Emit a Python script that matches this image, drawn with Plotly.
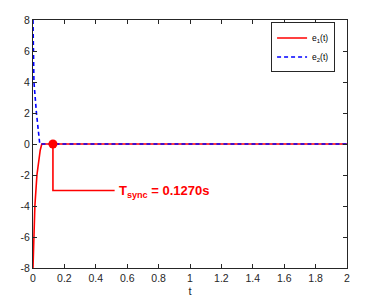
import plotly.graph_objects as go

# e1(t): red solid, rises from -8 to 0
t1 = [0, 0.005, 0.012, 0.025, 0.036, 0.046, 0.056, 0.127, 0.5, 1.0, 1.5, 2.0]
e1 = [-8, -6, -4, -2, -1, -0.4, 0, 0, 0, 0, 0, 0]
# e2(t): blue dashed, falls from 8 to 0
t2 = [0, 0.002, 0.006, 0.022, 0.043, 0.127, 0.5, 1.0, 1.5, 2.0]
e2 = [8, 6, 4, 2, 0, 0, 0, 0, 0, 0]

t_sync = 0.127
label_y = -3
label_x_end = 0.52

x_ticks = [0, 0.2, 0.4, 0.6, 0.8, 1, 1.2, 1.4, 1.6, 1.8, 2]
x_tick_text = ["0", "0.2", "0.4", "0.6", "0.8", "1", "1.2", "1.4", "1.6", "1.8", "2"]
y_ticks = [-8, -6, -4, -2, 0, 2, 4, 6, 8]
y_tick_text = ["-8", "-6", "-4", "-2", "0", "2", "4", "6", "8"]

font = "Liberation Sans, Arial, Helvetica, sans-serif"

fig = go.Figure()
fig.add_trace(go.Scatter(x=t1, y=e1, mode="lines", name="e<sub>1</sub>(t)",
                         line=dict(color="#ff0000", width=1.6)))
fig.add_trace(go.Scatter(x=t2, y=e2, mode="lines", name="e<sub>2</sub>(t)",
                         line=dict(color="#0000ff", width=1.6, dash="4px,3px")))
# annotation leader line
fig.add_trace(go.Scatter(x=[t_sync, t_sync, label_x_end], y=[0, label_y, label_y],
                         mode="lines", line=dict(color="#ff0000", width=1.6),
                         showlegend=False, hoverinfo="skip"))
fig.add_trace(go.Scatter(x=[t_sync], y=[0], mode="markers",
                         marker=dict(color="#ff0000", size=9),
                         showlegend=False))

fig.add_annotation(x=label_x_end, y=label_y, xref="x", yref="y",
                   text="<b>T<sub>sync</sub> = 0.1270s</b>", showarrow=False,
                   xanchor="left", yanchor="middle", xshift=2, yshift=-1,
                   font=dict(family=font, size=13, color="#ff0000"))

axis_common = dict(showgrid=False, zeroline=False, showline=True, linecolor="#262626",
                   linewidth=1, mirror="ticks", ticks="inside", ticklen=4,
                   tickcolor="#262626", automargin=False,
                   tickfont=dict(family=font, size=10.5, color="#262626"))

fig.update_xaxes(range=[0, 2], tickvals=x_ticks, ticktext=x_tick_text,
                 title=dict(text="t", font=dict(family=font, size=11, color="#262626"), standoff=4),
                 **axis_common)
fig.update_yaxes(range=[-8, 8], tickvals=y_ticks, ticktext=y_tick_text, **axis_common)

fig.update_layout(
    width=380, height=303,
    margin=dict(l=33, r=33, t=20, b=35),
    plot_bgcolor="white", paper_bgcolor="white",
    font=dict(family=font, size=10, color="#262626"),
    legend=dict(x=0.962, y=0.99, xanchor="right", yanchor="top",
                bgcolor="white", bordercolor="#262626", borderwidth=1,
                font=dict(family=font, size=8.5, color="#000000"),
                tracegroupgap=0, itemwidth=30),
)

fig.write_html("out.html", config={"displayModeBar": False},
               post_script="document.body.style.margin='0px';")
